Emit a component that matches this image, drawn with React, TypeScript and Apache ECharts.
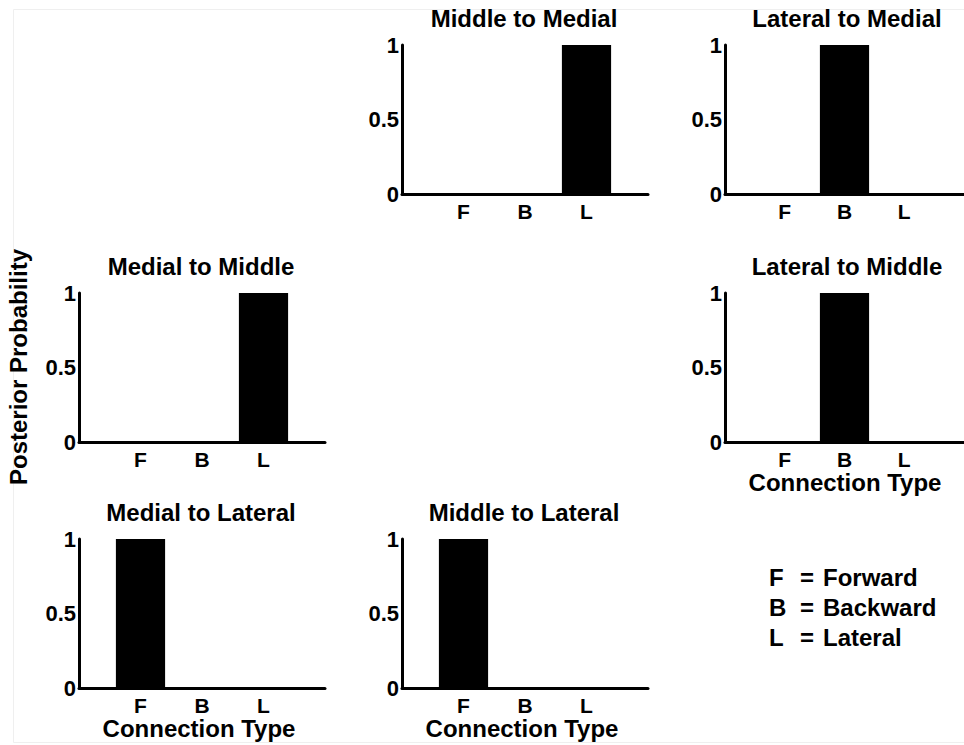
import React, { useEffect, useRef } from "react";
import * as echarts from "echarts";

// ---- data ----
const categories = ["F", "B", "L"];
const yTicks = [0, 0.5, 1];
const panelTitles = [
  "Middle to Medial",
  "Lateral to Medial",
  "Medial to Middle",
  "Lateral to Middle",
  "Medial to Lateral",
  "Middle to Lateral",
];
const middleToMedial = [0, 0, 1];
const lateralToMedial = [0, 1, 0];
const medialToMiddle = [0, 0, 1];
const lateralToMiddle = [0, 1, 0];
const medialToLateral = [1, 0, 0];
const middleToLateral = [1, 0, 0];
const panelValues = [
  middleToMedial,
  lateralToMedial,
  medialToMiddle,
  lateralToMiddle,
  medialToLateral,
  middleToLateral,
];
const legendKeys = ["F", "B", "L"];
const legendNames = ["Forward", "Backward", "Lateral"];
const xAxisTitle = "Connection Type";
const yAxisTitle = "Posterior Probability";

// ---- layout ----
const FONT = '"Liberation Sans", Arial, Helvetica, sans-serif';
const colLeft = [79, 402, 725];
const rowTop = [45, 293, 539];
const GW = 246;
const GH = 149;
// [col,row] per panel
const panelPos = [
  [1, 0],
  [2, 0],
  [0, 1],
  [2, 1],
  [0, 2],
  [1, 2],
];
const showXName = [false, false, false, true, true, true];

export default function App() {
  const ref = useRef<HTMLDivElement>(null);
  useEffect(() => {
    if (!ref.current) return;
    const chart = echarts.init(ref.current, null, { renderer: "svg" });
    const grids: any[] = [];
    const xAxes: any[] = [];
    const yAxes: any[] = [];
    const series: any[] = [];
    const graphics: any[] = [];

    graphics.push({
      type: "rect",
      shape: { x: 13.5, y: 9.5, width: 1000, height: 733 },
      style: { fill: "none", stroke: "#efefef", lineWidth: 1 },
      silent: true,
    });

    panelPos.forEach(([c, r], i) => {
      const left = colLeft[c];
      const top = rowTop[r];
      grids.push({ left, top, width: GW, height: GH, containLabel: false });
      xAxes.push({
        type: "value",
        gridIndex: i,
        min: 0,
        max: categories.length + 1,
        interval: 1,
        axisLine: { show: true, onZero: false, lineStyle: { color: "#000", width: 3 } },
        axisTick: { show: false },
        splitLine: { show: false },
        axisLabel: {
          margin: 7,
          color: "#000",
          fontFamily: FONT,
          fontWeight: "bold",
          fontSize: 21,
          lineHeight: 20,
          showMinLabel: false,
          showMaxLabel: false,
          formatter: (v: number) => categories[v - 1] || "",
        },
      });
      yAxes.push({
        type: "value",
        gridIndex: i,
        min: yTicks[0],
        max: yTicks[yTicks.length - 1],
        interval: yTicks[1] - yTicks[0],
        axisLine: { show: true, lineStyle: { color: "#000", width: 3 } },
        axisTick: { show: false },
        splitLine: { show: false },
        axisLabel: {
          margin: 3,
          color: "#000",
          fontFamily: FONT,
          fontWeight: "bold",
          fontSize: 22,
          formatter: (v: number) => String(v),
        },
      });
      series.push({
        type: "bar",
        xAxisIndex: i,
        yAxisIndex: i,
        barWidth: (GW / (categories.length + 1)) * 0.8,
        itemStyle: { color: "#000" },
        data: panelValues[i].map((v, k) => [k + 1, v]),
      });
      graphics.push({
        type: "text",
        x: left + GW / 2 - 1,
        y: top - 27,
        style: {
          text: panelTitles[i],
          textAlign: "center",
          textVerticalAlign: "middle",
          fontFamily: FONT,
          fontWeight: "bold",
          fontSize: 24,
          fill: "#000",
        },
      });
      if (showXName[i]) {
        graphics.push({
          type: "text",
          x: left + GW / 2 - 3,
          y: top + GH + 40,
          style: {
            text: xAxisTitle,
            textAlign: "center",
            textVerticalAlign: "middle",
            fontFamily: FONT,
            fontWeight: "bold",
            fontSize: 24,
            lineHeight: 22,
            fill: "#000",
          },
        });
      }
    });

    graphics.push({
      type: "text",
      x: 18,
      y: 367,
      rotation: Math.PI / 2,
      style: {
        text: yAxisTitle,
        textAlign: "center",
        textVerticalAlign: "middle",
        fontFamily: FONT,
        fontWeight: "bold",
        fontSize: 24,
        fill: "#000",
      },
    });

    legendKeys.forEach((k, j) => {
      const y = 577 + j * 30;
      const base = {
        textVerticalAlign: "middle",
        fontFamily: FONT,
        fontWeight: "bold",
        fontSize: 24,
        lineHeight: 24,
        fill: "#000",
      };
      graphics.push({ type: "text", x: 769, y, style: { ...base, text: k, textAlign: "left" } });
      graphics.push({ type: "text", x: 800, y, style: { ...base, text: "=", textAlign: "left" } });
      graphics.push({
        type: "text",
        x: 823,
        y,
        style: { ...base, text: legendNames[j], textAlign: "left" },
      });
    });

    chart.setOption({
      animation: false,
      backgroundColor: "#fff",
      grid: grids,
      xAxis: xAxes,
      yAxis: yAxes,
      series,
      graphic: graphics,
    });
    return () => chart.dispose();
  }, []);
  return (
    <div
      ref={ref}
      style={{ position: "fixed", left: 0, top: 0, width: 964, height: 745 }}
    />
  );
}
